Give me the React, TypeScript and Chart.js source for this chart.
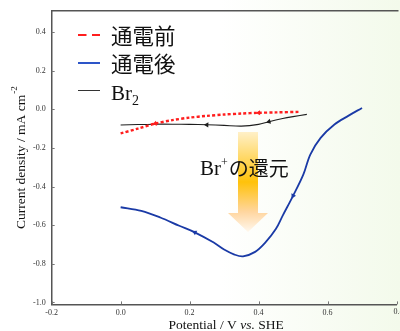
import React, { useEffect, useRef } from "react";
import { Chart, registerables } from "chart.js";

Chart.register(...registerables);

// ---- data ----
const beforeX = [0, 0.05, 0.1, 0.15, 0.2, 0.25, 0.3, 0.35, 0.4, 0.45, 0.52];
const beforeY = [-0.125, -0.1, -0.074, -0.056, -0.043, -0.034, -0.027, -0.022, -0.018, -0.016, -0.013];

const afterX = [0.7, 0.66, 0.62, 0.58, 0.55, 0.53, 0.5, 0.47, 0.45, 0.42, 0.39, 0.355, 0.33, 0.3, 0.27, 0.215, 0.17, 0.115, 0.06, 0];
const afterY = [0.007, -0.034, -0.079, -0.148, -0.234, -0.337, -0.448, -0.55, -0.62, -0.689, -0.738, -0.761, -0.752, -0.726, -0.69, -0.637, -0.603, -0.56, -0.526, -0.507];

const br2X = [0, 0.05, 0.1, 0.15, 0.2, 0.25, 0.3, 0.35, 0.4, 0.43, 0.47, 0.5, 0.54];
const br2Y = [-0.081, -0.079, -0.077, -0.077, -0.078, -0.08, -0.083, -0.087, -0.078, -0.064, -0.048, -0.038, -0.026];

const seriesLabels = ["通電前", "通電後", "Br"];
const xTickValues = [-0.2, 0, 0.2, 0.4, 0.6, 0.8];
const yTickValues = [-1.0, -0.8, -0.6, -0.4, -0.2, 0.0, 0.2, 0.4];
const xTitle = ["Potential / V ", "vs.", " SHE"];
const yTitle = ["Current density / mA cm", "-2"];
const annotation = ["Br", "+", "の還元"];

// direction markers (index in series -> rotation in degrees)
const beforeArrows: Record<number, number> = { 2: 256, 8: 268 };
const afterArrows: Record<number, number> = { 6: 207, 15: 297 };
const br2Arrows: Record<number, number> = { 5: 272, 9: 256 };

const toPts = (xs: number[], ys: number[]) => xs.map((x, i) => ({ x, y: ys[i] }));

const SERIF = "'Liberation Serif', 'DejaVu Serif', serif";
const CJK = "'Noto Sans CJK JP', 'Noto Sans', sans-serif";

const RED = "#ff1e1e";
const BLUE = "#1a3aa6";
const BLACK = "#1e1e1e";

const bgPlugin = {
  id: "bg",
  beforeDraw(chart: any) {
    const { ctx, width, height } = chart;
    ctx.save();
    const g = ctx.createLinearGradient(0, 0, width, 0);
    g.addColorStop(0, "#ffffff");
    g.addColorStop(0.55, "#ffffff");
    g.addColorStop(1, "#f3faeb");
    ctx.fillStyle = g;
    ctx.fillRect(0, 0, width, height);
    ctx.restore();
  },
};

const decoPlugin = {
  id: "deco",
  afterDraw(chart: any) {
    const { ctx, chartArea } = chart;
    const xs = chart.scales.x;
    const ys = chart.scales.y;
    ctx.save();
    // top frame line
    ctx.strokeStyle = "#555";
    ctx.lineWidth = 1.5;
    ctx.beginPath();
    ctx.moveTo(chartArea.left, chartArea.top);
    ctx.lineTo(chartArea.right + 2, chartArea.top);
    ctx.stroke();
    // inward ticks
    ctx.lineWidth = 1;
    ctx.strokeStyle = "#777";
    xTickValues.forEach((v) => {
      const px = Math.round(xs.getPixelForValue(v)) + 0.5;
      ctx.beginPath();
      ctx.moveTo(px, chartArea.bottom);
      ctx.lineTo(px, chartArea.bottom - 3);
      ctx.stroke();
    });
    yTickValues.forEach((v) => {
      const py = Math.round(ys.getPixelForValue(v)) + 0.5;
      ctx.beginPath();
      ctx.moveTo(chartArea.left, py);
      ctx.lineTo(chartArea.left + 3, py);
      ctx.stroke();
    });
    // last x tick label (cut by the edge)
    const last = xTickValues[xTickValues.length - 1];
    ctx.fillStyle = "#333";
    ctx.font = `8px ${SERIF}`;
    ctx.textAlign = "center";
    ctx.textBaseline = "top";
    ctx.fillText(last.toFixed(1), xs.getPixelForValue(last) + 2, chartArea.bottom + 3.5);

    // x title
    ctx.fillStyle = "#111";
    ctx.textBaseline = "alphabetic";
    ctx.textAlign = "left";
    ctx.font = `13.5px ${SERIF}`;
    const w0 = ctx.measureText(xTitle[0]).width;
    ctx.font = `italic 13.5px ${SERIF}`;
    const w1 = ctx.measureText(xTitle[1]).width;
    ctx.font = `13.5px ${SERIF}`;
    const w2 = ctx.measureText(xTitle[2]).width;
    const cx = (chartArea.left + chartArea.right) / 2 + 2;
    let tx = cx - (w0 + w1 + w2) / 2;
    const tb = 329;
    ctx.fillText(xTitle[0], tx, tb);
    tx += w0;
    ctx.font = `italic 13.5px ${SERIF}`;
    ctx.fillText(xTitle[1], tx, tb);
    tx += w1;
    ctx.font = `13.5px ${SERIF}`;
    ctx.fillText(xTitle[2], tx, tb);

    // y title (rotated)
    ctx.save();
    ctx.translate(24.5, 229);
    ctx.rotate(-Math.PI / 2);
    ctx.font = `13.5px ${SERIF}`;
    ctx.fillText(yTitle[0], 0, 0);
    const yw = ctx.measureText(yTitle[0]).width;
    ctx.font = `9px ${SERIF}`;
    ctx.fillText(yTitle[1], yw + 1, -8);
    ctx.restore();

    // legend
    const legendRows = [35, 63, 91];
    const lx0 = 78, lx1 = 100;
    ctx.strokeStyle = RED;
    ctx.lineWidth = 2;
    ctx.setLineDash([8.5, 5.5]);
    ctx.beginPath();
    ctx.moveTo(lx0, legendRows[0]);
    ctx.lineTo(lx1, legendRows[0]);
    ctx.stroke();
    ctx.setLineDash([]);
    ctx.strokeStyle = "#2d55c8";
    ctx.lineWidth = 2;
    ctx.beginPath();
    ctx.moveTo(lx0, legendRows[1]);
    ctx.lineTo(lx1, legendRows[1]);
    ctx.stroke();
    ctx.strokeStyle = "#333";
    ctx.lineWidth = 1;
    ctx.beginPath();
    ctx.moveTo(lx0, legendRows[2] - 0.5);
    ctx.lineTo(lx1, legendRows[2] - 0.5);
    ctx.stroke();

    ctx.fillStyle = "#111";
    ctx.font = `21.5px ${CJK}`;
    ctx.textBaseline = "middle";
    ctx.fillText(seriesLabels[0], 111, legendRows[0] + 1);
    ctx.fillText(seriesLabels[1], 111, legendRows[1] + 1);
    ctx.textBaseline = "alphabetic";
    ctx.font = `21px ${SERIF}`;
    ctx.fillText(seriesLabels[2], 111, 100);
    const bw = ctx.measureText(seriesLabels[2]).width;
    ctx.font = `14px ${SERIF}`;
    ctx.fillText("2", 111 + bw, 105);

    // annotation arrow
    const top = 132, headY = 213, tip = 232, sx0 = 238, sx1 = 258, hx0 = 228, hx1 = 268;
    const g = ctx.createLinearGradient(0, top, 0, tip);
    g.addColorStop(0, "#fff0c8");
    g.addColorStop(0.5, "#ffc20a");
    g.addColorStop(0.8, "#ffd6a0");
    g.addColorStop(1, "#fff8ee");
    ctx.fillStyle = g;
    ctx.beginPath();
    ctx.moveTo(sx0, top);
    ctx.lineTo(sx1, top);
    ctx.lineTo(sx1, headY);
    ctx.lineTo(hx1, headY);
    ctx.lineTo((hx0 + hx1) / 2, tip);
    ctx.lineTo(hx0, headY);
    ctx.lineTo(sx0, headY);
    ctx.closePath();
    ctx.fill();

    // annotation text
    ctx.fillStyle = "#111";
    ctx.textBaseline = "alphabetic";
    ctx.font = `21px ${SERIF}`;
    const ax = 200, ab = 175;
    ctx.fillText(annotation[0], ax, ab);
    const aw = ctx.measureText(annotation[0]).width;
    ctx.font = `12px ${SERIF}`;
    ctx.fillText(annotation[1], ax + aw, ab - 9);
    const pw = ctx.measureText(annotation[1]).width;
    ctx.font = `20px ${CJK}`;
    ctx.fillText(annotation[2], ax + aw + pw + 1, ab + 1);

    ctx.restore();
  },
};

const arrowRadius = (m: Record<number, number>) => (c: any) => (m[c.dataIndex] !== undefined ? 3 : 0);
const arrowRot = (m: Record<number, number>) => (c: any) => m[c.dataIndex] ?? 0;

export default function App() {
  const ref = useRef<HTMLCanvasElement>(null);
  useEffect(() => {
    const chart = new Chart(ref.current as HTMLCanvasElement, {
      type: "scatter",
      data: {
        datasets: [
          {
            label: seriesLabels[0],
            data: toPts(beforeX, beforeY),
            showLine: true,
            borderColor: RED,
            backgroundColor: RED,
            borderWidth: 2.4,
            borderDash: [3, 2.2],
            tension: 0.3,
            pointStyle: "triangle",
            pointRadius: arrowRadius(beforeArrows),
            pointRotation: arrowRot(beforeArrows),
            pointBorderWidth: 0,
          },
          {
            label: seriesLabels[1],
            data: toPts(afterX, afterY),
            showLine: true,
            borderColor: BLUE,
            backgroundColor: BLUE,
            borderWidth: 1.8,
            tension: 0.35,
            pointStyle: "triangle",
            pointRadius: arrowRadius(afterArrows),
            pointRotation: arrowRot(afterArrows),
            pointBorderWidth: 0,
          },
          {
            label: seriesLabels[2] + "2",
            data: toPts(br2X, br2Y),
            showLine: true,
            borderColor: BLACK,
            backgroundColor: BLACK,
            borderWidth: 1.1,
            tension: 0.3,
            pointStyle: "triangle",
            pointRadius: arrowRadius(br2Arrows),
            pointRotation: arrowRot(br2Arrows),
            pointBorderWidth: 0,
          },
        ],
      },
      options: {
        animation: false,
        responsive: false,
        layout: { padding: { left: 27, top: 9, right: 0, bottom: 10 } },
        plugins: { legend: { display: false }, tooltip: { enabled: false } },
        scales: {
          x: {
            type: "linear",
            min: -0.2,
            max: 0.8,
            grid: { display: false, drawTicks: false },
            border: { display: true, color: "#555", width: 1.5 },
            afterBuildTicks: (s: any) => {
              s.ticks = xTickValues.map((v) => ({ value: v }));
            },
            ticks: {
              padding: 3.5,
              autoSkip: false,
              maxRotation: 0,
              color: "#333",
              font: { family: SERIF, size: 8 },
              callback: (v: any) => (Number(v) >= 0.79 ? "" : Number(v).toFixed(1)),
            },
          },
          y: {
            type: "linear",
            min: -1.01,
            max: 0.51,
            grid: { display: false, drawTicks: false },
            border: { display: true, color: "#555", width: 1.5 },
            afterBuildTicks: (s: any) => {
              s.ticks = yTickValues.map((v) => ({ value: v }));
            },
            ticks: {
              padding: 6,
              autoSkip: false,
              color: "#333",
              font: { family: SERIF, size: 8 },
              callback: (v: any) => Number(v).toFixed(1),
            },
          },
        },
      },
      plugins: [bgPlugin, decoPlugin],
    } as any);
    return () => chart.destroy();
  }, []);
  return (
    <div style={{ position: "absolute", left: 0, top: 0, width: 400, height: 331 }}>
      <canvas ref={ref} width={400} height={331} style={{ display: "block" }} />
    </div>
  );
}
